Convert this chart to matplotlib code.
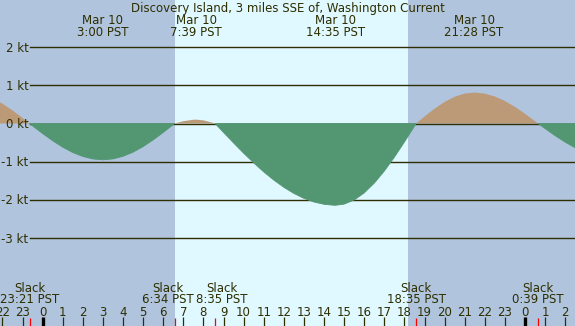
import matplotlib
matplotlib.use("Agg")
import matplotlib.pyplot as plt
import numpy as np

# ---- data (hours relative to Mar 10 00:00 PST, speeds in knots) ----
times = [-2.5, -2.0, -1.5, -1.0, -0.65, -0.5, 0.0, 0.5, 1.0, 1.5, 2.0, 2.5, 3.0,
         3.5, 4.0, 4.5, 5.0, 5.5, 6.0, 6.5, 6.567, 7.0, 7.5, 7.65, 8.0, 8.5, 8.583,
         9.0, 9.5, 10.0, 10.5, 11.0, 11.5, 12.0, 12.5, 13.0, 13.5, 14.0, 14.5, 14.583,
         15.0, 15.5, 16.0, 16.5, 17.0, 17.5, 18.0, 18.5, 18.583, 19.0, 19.5, 20.0,
         20.5, 21.0, 21.467, 21.5, 22.0, 22.5, 23.0, 23.5, 24.0, 24.5, 24.65, 25.0,
         25.5, 26.0, 26.5, 27.0]
speeds = [0.659, 0.520, 0.344, 0.146, 0.0, -0.061, -0.262, -0.451, -0.619, -0.759,
          -0.863, -0.928, -0.95, -0.927, -0.859, -0.750, -0.605, -0.430, -0.235,
          -0.028, 0.0, 0.059, 0.098, 0.10, 0.083, 0.014, 0.0, -0.233, -0.509, -0.776,
          -1.029, -1.266, -1.480, -1.669, -1.830, -1.959, -2.055, -2.115, -2.140,
          -2.14, -2.111, -2.003, -1.817, -1.562, -1.246, -0.883, -0.486, -0.070, 0.0,
          0.182, 0.388, 0.565, 0.700, 0.784, 0.81, 0.810, 0.782, 0.707, 0.589, 0.435,
          0.255, 0.060, 0.0, -0.133, -0.318, -0.488, -0.636, -0.756]

extreme_hours = [3.0, 7.65, 14.583, 21.467]
extreme_labels = ["3:00 PST", "7:39 PST", "14:35 PST", "21:28 PST"]
extreme_date = "Mar 10"

slack_hours = [-0.65, 6.567, 8.583, 18.583, 24.65]
slack_labels = ["23:21 PST", "6:34 PST", "8:35 PST", "18:35 PST", "0:39 PST"]

sunrise = 6.58
sunset = 18.19

kt_levels = [2, 1, 0, -1, -2, -3]
kt_labels = ["2 kt", "1 kt", "0 kt", "-1 kt", "-2 kt", "-3 kt"]

hour_ticks = list(range(-2, 27))
hour_labels = ["22", "23", "0", "1", "2", "3", "4", "5", "6", "7", "8", "9", "10",
               "11", "12", "13", "14", "15", "16", "17", "18", "19", "20", "21",
               "22", "23", "0", "1", "2"]

title = "Discovery Island, 3 miles SSE of, Washington Current"

# ---- style ----
W, H = 575, 326
PX_PER_H = 20.1
X0 = 42.6          # pixel of hour 0
PX_PER_KT = 38.2
Y0 = 123.5         # pixel row of 0 kt
NIGHT = "#B0C4DE"
DAY = "#E0F8FF"
FLOOD = "#BC9A78"
EBB = "#529672"
INK = "#2e2e00"
FS = 8.45

def ydat(ypix):
    return (Y0 - ypix) / PX_PER_KT

fig = plt.figure(figsize=(W / 100, H / 100), dpi=100)
ax = fig.add_axes([0, 0, 1, 1])
xmin = -X0 / PX_PER_H
xmax = (W - X0) / PX_PER_H
ax.set_xlim(xmin, xmax)
ax.set_ylim(ydat(H), ydat(0))
ax.axis("off")

# day / night background
ax.axvspan(xmin, sunrise, color=NIGHT, lw=0, zorder=0)
ax.axvspan(sunrise, sunset, color=DAY, lw=0, zorder=0)
ax.axvspan(sunset, xmax, color=NIGHT, lw=0, zorder=0)

t = np.array(times)
v = np.array(speeds)
ax.fill_between(t, v, 0, where=v >= 0, interpolate=True, color=FLOOD, lw=0, zorder=1)
ax.fill_between(t, v, 0, where=v <= 0, interpolate=True, facecolor=EBB,
                edgecolor=EBB, lw=0.6, zorder=3)

# kt grid lines and labels
for lev, lab in zip(kt_levels, kt_labels):
    ax.axhline(lev, xmin=30 / W, xmax=1, color=INK, lw=1.0, zorder=2)
    ax.text(-(X0 - 28.5) / PX_PER_H, lev - 4.5 / PX_PER_KT, lab, ha="right",
            va="baseline", fontsize=FS, color=INK, zorder=5)

# title
ax.text((xmin + xmax) / 2, ydat(12), title, ha="center", va="baseline",
        fontsize=FS, color=INK, zorder=5)

# extreme labels at top
for h, lab in zip(extreme_hours, extreme_labels):
    ax.text(h, ydat(24), extreme_date, ha="center", va="baseline", fontsize=FS,
            color=INK, zorder=5)
    ax.text(h, ydat(35.7), lab, ha="center", va="baseline", fontsize=FS,
            color=INK, zorder=5)

# slack labels (spread apart when crowded)
pos = list(slack_hours)
min_sep = 2.72
for i in range(len(pos) - 1):
    gap = pos[i + 1] - pos[i]
    if gap < min_sep:
        d = (min_sep - gap) / 2
        pos[i] -= d
        pos[i + 1] += d
for h, lab in zip(pos, slack_labels):
    ax.text(h, ydat(291.7), "Slack", ha="center", va="baseline", fontsize=FS,
            color=INK, zorder=5)
    ax.text(h, ydat(303.3), lab, ha="center", va="baseline", fontsize=FS,
            color=INK, zorder=5)

# hour ticks and labels
for h, lab in zip(hour_ticks, hour_labels):
    ax.text(h, ydat(315.7), lab, ha="center", va="baseline", fontsize=FS,
            color=INK, zorder=5)
    if lab == "0":
        ax.plot([h, h], [ydat(317), ydat(326)], color="black", lw=2.4,
                solid_capstyle="butt", zorder=5)
    else:
        ax.plot([h, h], [ydat(317), ydat(326)], color=INK, lw=0.9,
                solid_capstyle="butt", zorder=5)
for h in slack_hours:
    ax.plot([h, h], [ydat(318), ydat(326)], color="red", lw=0.9,
            solid_capstyle="butt", zorder=5)

fig.savefig("out.png", dpi=100)
